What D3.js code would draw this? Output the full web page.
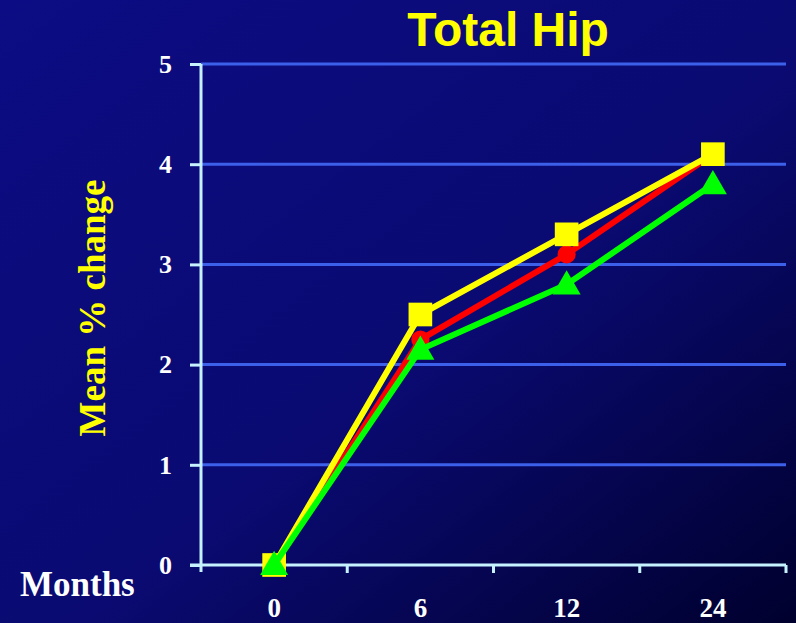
<!DOCTYPE html>
<html>
<head>
<meta charset="utf-8">
<script src="https://cdn.jsdelivr.net/npm/d3@7"></script>
<style>
  html, body { margin: 0; padding: 0; background: #0a0a78; }
  svg { display: block; }
</style>
</head>
<body>
<svg id="chart"></svg>
<script>
const months = ["0", "6", "12", "24"];
const yTicks = [0, 1, 2, 3, 4, 5];
const redValues = [0, 2.25, 3.1, 4.1];
const yellowValues = [0, 2.5, 3.3, 4.1];
const greenValues = [0, 2.15, 2.8, 3.8];

const width = 796;
const height = 623;
const margin = { top: 64, right: 10, bottom: 58, left: 201 };

const svg = d3.select("#chart").attr("width", width).attr("height", height);

const defs = svg.append("defs");
const grad = defs.append("linearGradient")
  .attr("id", "bg")
  .attr("x1", "0").attr("y1", "0")
  .attr("x2", "1").attr("y2", "1");
grad.append("stop").attr("offset", "0").attr("stop-color", "#0c0c84");
grad.append("stop").attr("offset", "0.55").attr("stop-color", "#0a0a72");
grad.append("stop").attr("offset", "1").attr("stop-color", "#00002e");

svg.append("rect")
  .attr("width", width)
  .attr("height", height)
  .attr("fill", "url(#bg)");

const x = d3.scaleBand()
  .domain(months)
  .range([margin.left, width - margin.right]);

const y = d3.scaleLinear()
  .domain([0, 5])
  .range([height - margin.bottom, margin.top]);

const axisColor = "#c6f2ff";
const gridColor = "#3c60ea";

// gridlines
svg.append("g")
  .selectAll("line")
  .data(yTicks.filter(d => d > 0))
  .join("line")
  .attr("x1", margin.left)
  .attr("x2", width - margin.right)
  .attr("y1", d => y(d))
  .attr("y2", d => y(d))
  .attr("stroke", gridColor)
  .attr("stroke-width", 3);

// y axis
const yAxis = d3.axisLeft(y)
  .tickValues(yTicks)
  .tickSize(11)
  .tickPadding(18)
  .tickFormat(d3.format("d"));

const yAxisGroup = svg.append("g")
  .attr("transform", `translate(${margin.left},0)`)
  .call(yAxis);
yAxisGroup.select(".domain")
  .attr("d", `M0,${y(5)}V${y(0) + 7}`)
  .attr("stroke", axisColor)
  .attr("stroke-width", 3);
yAxisGroup.selectAll(".tick line")
  .attr("stroke", axisColor)
  .attr("stroke-width", 3);
yAxisGroup.selectAll(".tick text")
  .attr("fill", "#ffffff")
  .style("font-family", "'Liberation Serif', 'Times New Roman', serif")
  .style("font-weight", "bold")
  .style("font-size", "26px");

// x axis: ticks at band edges, labels at band centres
const xAxisGroup = svg.append("g")
  .attr("transform", `translate(0,${y(0)})`);
xAxisGroup.append("line")
  .attr("x1", margin.left - 11)
  .attr("x2", width - margin.right)
  .attr("stroke", axisColor)
  .attr("stroke-width", 3);
const edges = months.map(d => x(d)).concat([x.range()[1]]);
xAxisGroup.selectAll(".edge")
  .data(edges.slice(1))
  .join("line")
  .attr("class", "edge")
  .attr("x1", d => d)
  .attr("x2", d => d)
  .attr("y1", 0)
  .attr("y2", 8)
  .attr("stroke", axisColor)
  .attr("stroke-width", 3);
xAxisGroup.selectAll(".xlabel")
  .data(months)
  .join("text")
  .attr("class", "xlabel")
  .attr("x", d => x(d) + x.bandwidth() / 2)
  .attr("y", 52)
  .attr("text-anchor", "middle")
  .attr("fill", "#ffffff")
  .style("font-family", "'Liberation Serif', 'Times New Roman', serif")
  .style("font-weight", "bold")
  .style("font-size", "27px")
  .text(d => d);

// titles
svg.append("text")
  .attr("x", 508)
  .attr("y", 46)
  .attr("text-anchor", "middle")
  .attr("fill", "#ffff00")
  .style("font-family", "'Liberation Sans', Arial, sans-serif")
  .style("font-weight", "bold")
  .style("font-size", "48px")
  .text("Total Hip");

svg.append("text")
  .attr("transform", `translate(105,${308}) rotate(-90)`)
  .attr("text-anchor", "middle")
  .attr("fill", "#ffff00")
  .style("font-family", "'Liberation Serif', 'Times New Roman', serif")
  .style("font-weight", "bold")
  .style("font-size", "37px")
  .text("Mean % change");

svg.append("text")
  .attr("x", 20)
  .attr("y", 596)
  .attr("fill", "#ffffff")
  .style("font-family", "'Liberation Serif', 'Times New Roman', serif")
  .style("font-weight", "bold")
  .style("font-size", "35px")
  .text("Months");

// series
const cx = d => x(d) + x.bandwidth() / 2;
const line = d3.line()
  .x((d, i) => cx(months[i]))
  .y(d => y(d));

const series = [
  { name: "red", values: redValues, color: "#ff0000", marker: "circle" },
  { name: "yellow", values: yellowValues, color: "#ffff00", marker: "square" },
  { name: "green", values: greenValues, color: "#00ff00", marker: "triangle" }
];

const symbols = {
  circle: d3.symbol().type(d3.symbolCircle).size(260),
  square: d3.symbol().type(d3.symbolSquare).size(560),
  triangle: d3.symbol().type(d3.symbolTriangle).size(340)
};

series.forEach(s => {
  const g = svg.append("g").attr("class", "series-" + s.name);
  g.append("path")
    .datum(s.values)
    .attr("fill", "none")
    .attr("stroke", s.color)
    .attr("stroke-width", 6)
    .attr("d", line);
  g.selectAll("path.marker")
    .data(s.values)
    .join("path")
    .attr("class", "marker")
    .attr("transform", (d, i) => `translate(${cx(months[i])},${y(d) + (s.marker === "triangle" ? 2 : 0)})`)
    .attr("fill", s.color)
    .attr("d", symbols[s.marker]);
});
</script>
</body>
</html>
